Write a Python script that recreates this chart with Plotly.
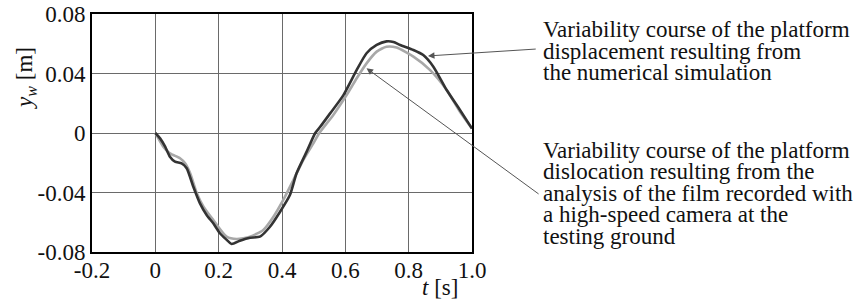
import plotly.graph_objects as go

# Numerical simulation (dark curve)
t_sim = [0.0, 0.015, 0.031, 0.046, 0.062, 0.083, 0.099, 0.12, 0.141, 0.162, 0.183, 0.204,
         0.222, 0.241, 0.267, 0.299, 0.33, 0.362, 0.394, 0.425, 0.446, 0.478, 0.505, 0.52,
         0.552, 0.594, 0.636, 0.667, 0.699, 0.73, 0.752, 0.773, 0.815, 0.846, 0.878, 0.92,
         0.962, 1.0]
y_sim = [0.0, -0.0036, -0.0092, -0.016, -0.0193, -0.0204, -0.0237, -0.0361, -0.0473, -0.0551,
         -0.0607, -0.0674, -0.0712, -0.0746, -0.0724, -0.0704, -0.0697, -0.063, -0.0529, -0.0417,
         -0.0271, -0.0125, 0.0, 0.004, 0.0132, 0.0255, 0.0424, 0.0536, 0.0592, 0.0616, 0.0612,
         0.0592, 0.0558, 0.0524, 0.0446, 0.0289, 0.0155, 0.003]

# Film analysis (light curve)
t_film = [0.0, 0.025, 0.046, 0.078, 0.094, 0.11, 0.131, 0.152, 0.183, 0.225, 0.257, 0.299,
          0.341, 0.373, 0.404, 0.436, 0.467, 0.499, 0.518, 0.562, 0.604, 0.636, 0.667, 0.699,
          0.73, 0.762, 0.815, 0.867, 0.92, 0.962, 1.0]
y_film = [0.0, -0.0092, -0.0137, -0.017, -0.0204, -0.0271, -0.0405, -0.0495, -0.0585, -0.0697,
          -0.0713, -0.0697, -0.0652, -0.0563, -0.045, -0.0316, -0.0182, -0.0069, 0.0, 0.0121,
          0.0255, 0.0368, 0.0468, 0.0547, 0.058, 0.0574, 0.0513, 0.0424, 0.0289, 0.0143, 0.003]

x_ticks = [-0.2, 0, 0.2, 0.4, 0.6, 0.8, 1.0]
x_tick_text = ["-0.2", "0", "0.2", "0.4", "0.6", "0.8", "1.0"]
y_ticks = [-0.08, -0.04, 0, 0.04, 0.08]
y_tick_text = ["-0.08", "-0.04", "0", "0.04", "0.08"]

label_sim = ["Variability course of the platform",
             "displacement resulting from",
             "the numerical simulation"]
label_film = ["Variability course of the platform",
              "dislocation resulting from the",
              "analysis of the film recorded with",
              "a high-speed camera at the",
              "testing ground"]

FONT = "Liberation Serif, DejaVu Serif, serif"
FS = 23

fig = go.Figure()
fig.add_trace(go.Scatter(x=t_film, y=y_film, mode="lines",
                         line=dict(color="#a8a8a8", width=2.6, shape="spline", smoothing=0.6),
                         showlegend=False, hoverinfo="skip"))
fig.add_trace(go.Scatter(x=t_sim, y=y_sim, mode="lines",
                         line=dict(color="#333333", width=2.6, shape="spline", smoothing=0.6),
                         showlegend=False, hoverinfo="skip"))

# plot area geometry (pixels) used to place annotations outside
L, R, T, B = 92, 472, 14, 252
def px_to_paper(px, py):
    return (px - L) / (R - L), (B - py) / (B - T)

ann = []
for i, line in enumerate(label_sim):
    xp, yp = px_to_paper(541, 30 + i * 21.3)
    ann.append(dict(x=xp, y=yp, xref="paper", yref="paper", text=line, showarrow=False,
                    xanchor="left", yanchor="middle", font=dict(family=FONT, size=FS, color="#111")))
for i, line in enumerate(label_film):
    xp, yp = px_to_paper(541, 150 + i * 21.5)
    ann.append(dict(x=xp, y=yp, xref="paper", yref="paper", text=line, showarrow=False,
                    xanchor="left", yanchor="middle", font=dict(family=FONT, size=FS, color="#111")))

# arrows
ann.append(dict(x=0.861, y=0.0518, xref="x", yref="y", ax=1.206, ay=0.0565, axref="x", ayref="y",
                text="", showarrow=True, arrowhead=2, arrowsize=1.3, arrowwidth=1, arrowcolor="#555"))
ann.append(dict(x=0.667, y=0.0435, xref="x", yref="y", ax=1.215, ay=-0.0417, axref="x", ayref="y",
                text="", showarrow=True, arrowhead=2, arrowsize=1.3, arrowwidth=1, arrowcolor="#555"))

# axis titles
xp, yp = px_to_paper(26, 78)
ann.append(dict(x=xp, y=yp, xref="paper", yref="paper", text="<i>y</i><sub><i>w</i></sub> [m]",
                showarrow=False, textangle=-90, xanchor="center", yanchor="middle",
                font=dict(family=FONT, size=FS, color="#111")))
xp, yp = px_to_paper(440, 287)
ann.append(dict(x=xp, y=yp, xref="paper", yref="paper", text="<i>t</i> [s]",
                showarrow=False, xanchor="center", yanchor="middle",
                font=dict(family=FONT, size=FS, color="#111")))

fig.update_layout(
    width=859, height=305,
    margin=dict(l=L, r=859 - R, t=T, b=305 - B, autoexpand=False),
    paper_bgcolor="white", plot_bgcolor="white",
    annotations=ann,
    font=dict(family=FONT, size=FS, color="#111"),
)
fig.update_xaxes(range=[-0.2, 1.0], tickvals=x_ticks, ticktext=x_tick_text, automargin=False,
                 showgrid=True, gridcolor="#6a6a6a", gridwidth=1, zeroline=False,
                 showline=True, linecolor="black", linewidth=2, mirror=True,
                 ticks="", ticklen=0, ticklabelstandoff=-4,
                 tickfont=dict(family=FONT, size=FS, color="#111"))
fig.update_yaxes(range=[-0.08, 0.08], tickvals=y_ticks, ticktext=y_tick_text, automargin=False,
                 showgrid=True, gridcolor="#6a6a6a", gridwidth=1, zeroline=False,
                 showline=True, linecolor="black", linewidth=2, mirror=True,
                 ticks="", ticklen=0, tickfont=dict(family=FONT, size=FS, color="#111"))

fig.write_html("out.html", post_script="document.body.style.margin='0';",
               config={"displayModeBar": False})
